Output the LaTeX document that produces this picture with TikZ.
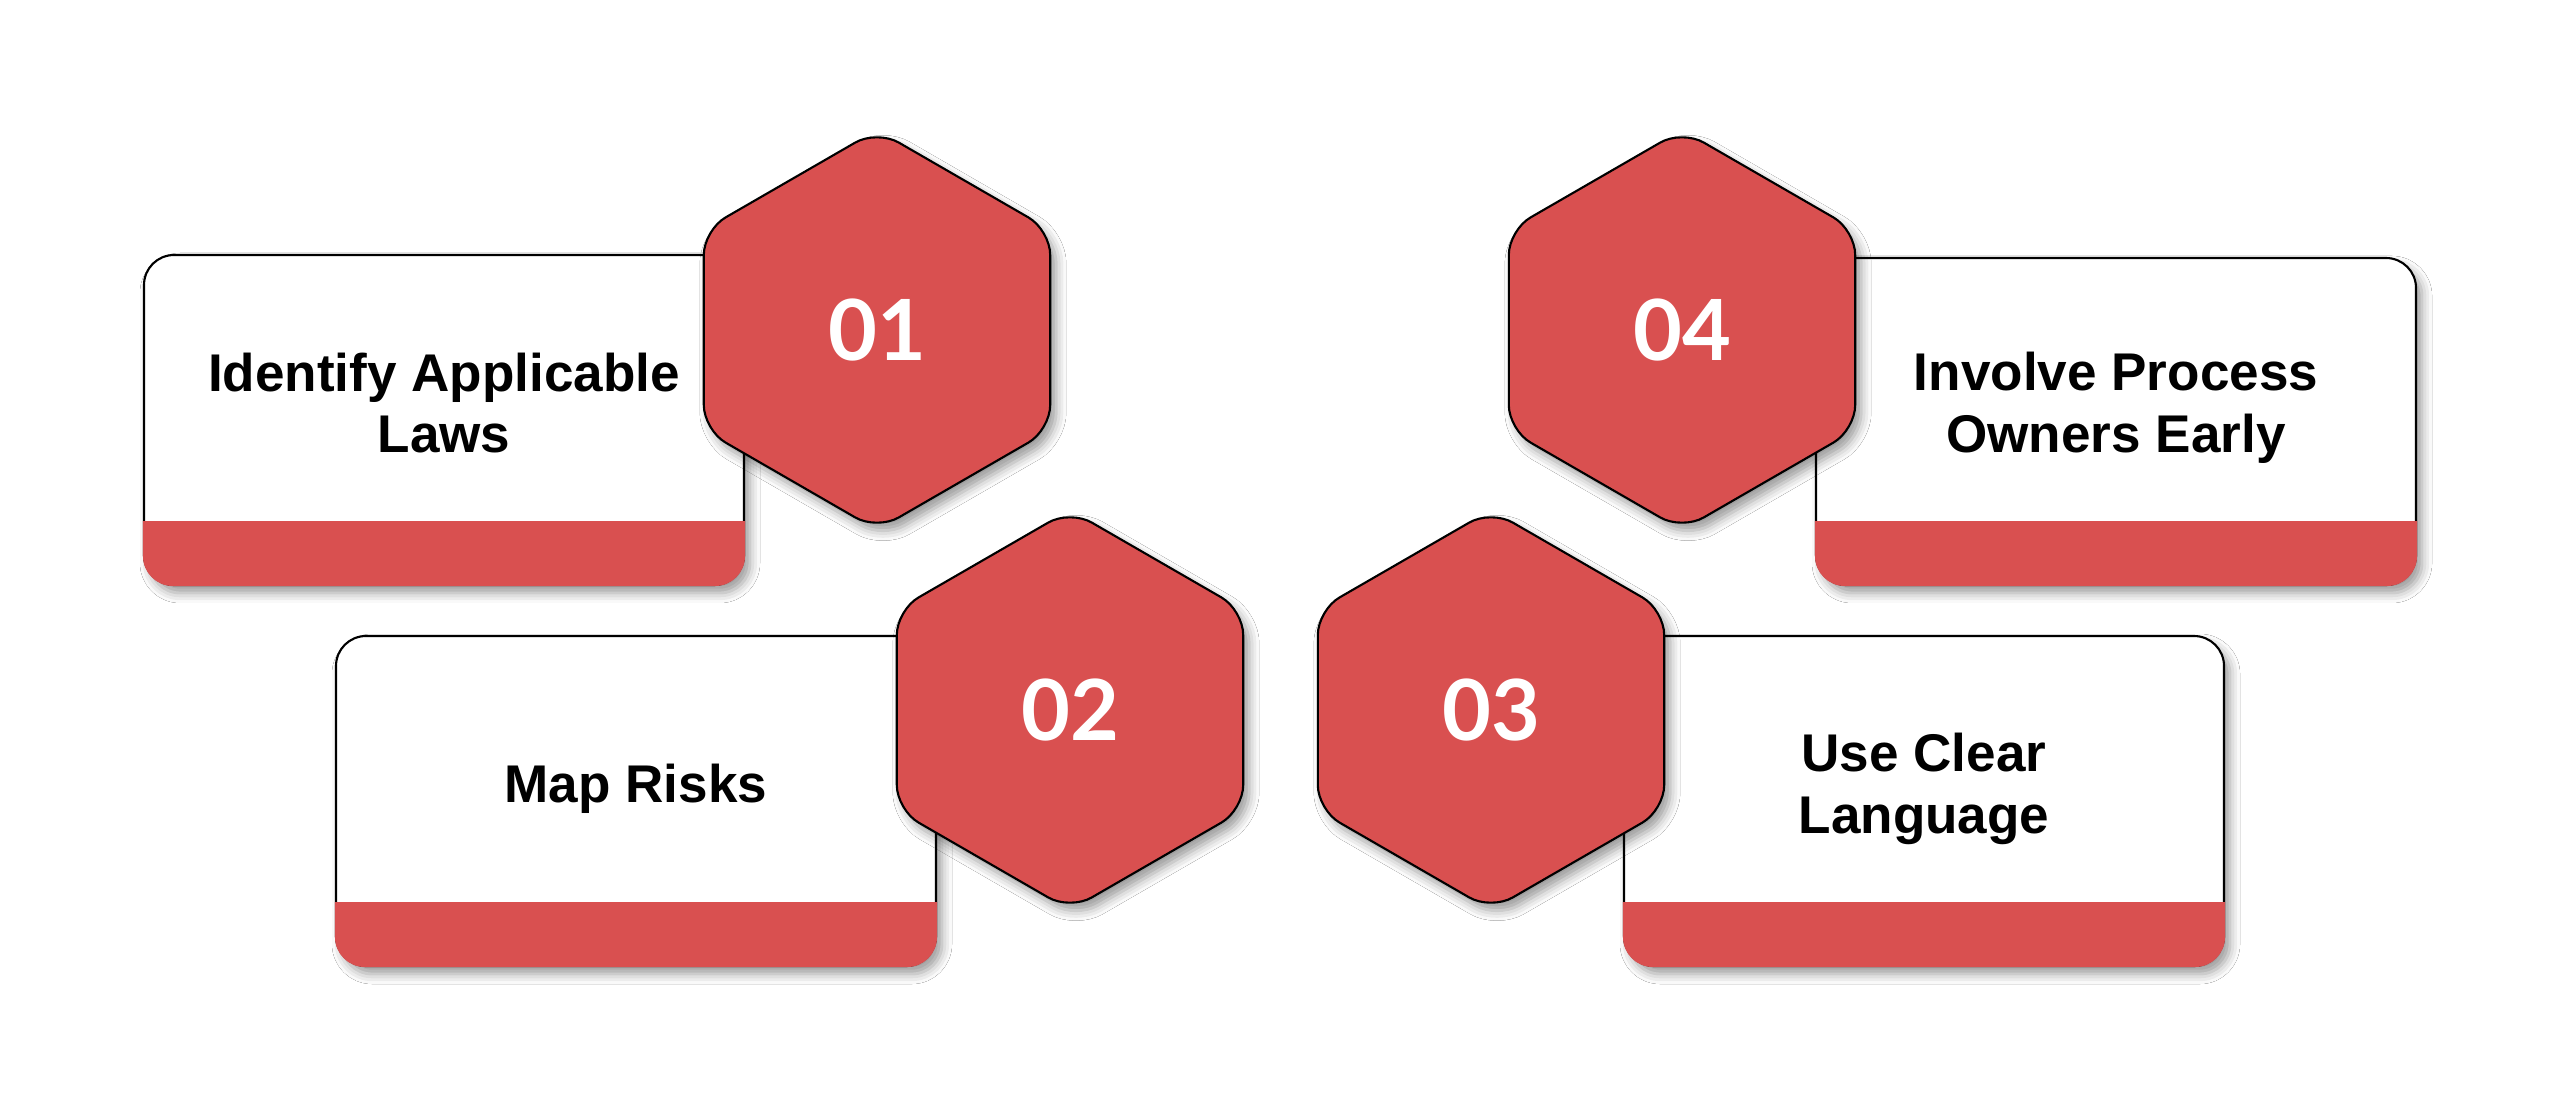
\documentclass[tikz,border=0pt]{standalone}
\usepackage{fontspec}
\setmainfont{Liberation Sans}
\newfontfamily\numfont{Lato}
\usepackage{tikz}
\usetikzlibrary{positioning, shapes.geometric, shadows.blur}
\definecolor{stepred}{RGB}{217,80,80}

\begin{document}
\begin{tikzpicture}[
    card/.style={draw=black, line width=0.6pt, fill=white, rounded corners=0.3cm, minimum width=6cm, minimum height=3.3cm, inner sep=0pt,
        blur shadow={shadow xshift=0.06cm, shadow yshift=-0.08cm, shadow blur radius=0.1cm, shadow opacity=40}},
    hexa/.style={regular polygon, regular polygon sides=6, shape border rotate=30, minimum size=4cm, inner sep=0pt,
        draw=black, line width=0.6pt, fill=stepred, rounded corners=0.25cm, text=white, font=\numfont\fontsize{24}{28}\selectfont\bfseries,
        blur shadow={shadow xshift=0.06cm, shadow yshift=-0.08cm, shadow blur radius=0.1cm, shadow opacity=40}},
    lbl/.style={align=center, font=\fontsize{15.1}{17.6}\selectfont\bfseries},
]
\path[use as bounding box, fill=white] (0,0) rectangle (25.6,10.93);

% === Cards (left pair) ===
\node[card] at (4.44, 6.73) (card1) {};
\begin{scope}
  \clip[rounded corners=0.3cm] (card1.south west) rectangle (card1.north east);
  \fill[stepred] ([shift={(-0.1,-0.1)}]card1.south west) rectangle ([shift={(0.1,0.65)}]card1.south east);
\end{scope}
\node[lbl] at ([yshift=0.17cm]card1.center) (txt1) {Identify Applicable\\Laws};

\node[card] at (6.36, 2.92) (card2) {};
\begin{scope}
  \clip[rounded corners=0.3cm] (card2.south west) rectangle (card2.north east);
  \fill[stepred] ([shift={(-0.1,-0.1)}]card2.south west) rectangle ([shift={(0.1,0.65)}]card2.south east);
\end{scope}
\node[lbl] at ([yshift=0.12cm]card2.center) (txt2) {Map Risks};

% === Cards (right pair) ===
\node[card] at (19.24, 2.92) (card3) {};
\begin{scope}
  \clip[rounded corners=0.3cm] (card3.south west) rectangle (card3.north east);
  \fill[stepred] ([shift={(-0.1,-0.1)}]card3.south west) rectangle ([shift={(0.1,0.65)}]card3.south east);
\end{scope}
\node[lbl] at ([yshift=0.12cm]card3.center) (txt3) {Use Clear\\Language};

\node[card, minimum height=3.27cm] at (21.16, 6.715) (card4) {};
\begin{scope}
  \clip[rounded corners=0.3cm] (card4.south west) rectangle (card4.north east);
  \fill[stepred] ([shift={(-0.1,-0.1)}]card4.south west) rectangle ([shift={(0.1,0.65)}]card4.south east);
\end{scope}
\node[lbl] at ([yshift=0.14cm]card4.center) (txt4) {Involve Process\\Owners Early};

% === Number hexagons (on top) ===
\node[hexa] at (8.77, 7.63) (num1) {01};
\node[hexa] at (10.70, 3.83) (num2) {02};
\node[hexa] at (14.91, 3.83) (num3) {03};
\node[hexa] at (16.82, 7.63) (num4) {04};

\end{tikzpicture}
\end{document}
